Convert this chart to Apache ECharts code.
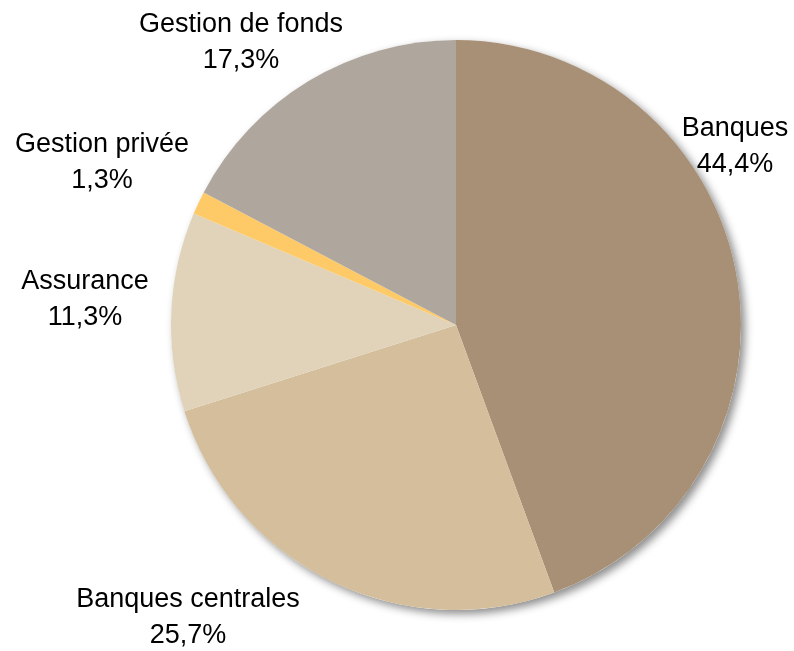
<!DOCTYPE html>
<html>
<head>
<meta charset="utf-8">
<script src="https://cdn.jsdelivr.net/npm/echarts@6/dist/echarts.min.js"></script>
<style>
html,body{margin:0;padding:0;background:#fff;}
#chart{width:794px;height:651px;}
</style>
</head>
<body>
<div id="chart"></div>
<script>
const categories = ['Banques', 'Banques centrales', 'Assurance', 'Gestion privée', 'Gestion de fonds'];
const shares = [44.4, 25.7, 11.3, 1.3, 17.3];
const shareLabels = ['44,4%', '25,7%', '11,3%', '1,3%', '17,3%'];

const colors = ['#A89076', '#D4BE9B', '#E0D3B9', '#FDCA67', '#AFA69D'];
const labelAnchors = [[735, 147], [188, 618], [85, 300], [102, 163], [241, 43]];

const chart = echarts.init(document.getElementById('chart'), null, {renderer: 'canvas'});
const fontFamily = "'Liberation Sans', Arial, sans-serif";

chart.setOption({
  animation: false,
  backgroundColor: '#ffffff',
  series: [
    {
      type: 'pie',
      silent: true,
      center: [456, 325],
      radius: 285,
      z: 1,
      label: {show: false},
      labelLine: {show: false},
      itemStyle: {
        color: '#ffffff',
        shadowBlur: 8,
        shadowColor: 'rgba(0,0,0,0.45)',
        shadowOffsetX: 4,
        shadowOffsetY: 4
      },
      data: [{value: 1, name: ''}]
    },
    {
      type: 'pie',
      center: [456, 325],
      radius: 285,
      startAngle: 90,
      clockwise: true,
      z: 2,
      avoidLabelOverlap: false,
      itemStyle: {borderWidth: 0},
      label: {
        show: true,
        position: 'outside',
        color: '#000000',
        fontFamily: fontFamily,
        fontSize: 27,
        lineHeight: 36,
        align: 'center',
        overflow: 'none',
        width: 300,
        formatter: function (p) { return p.name + '\n' + shareLabels[p.dataIndex]; }
      },
      labelLine: {show: false},
      labelLayout: function (params) {
        const a = labelAnchors[params.dataIndex];
        return {x: a[0], y: a[1], align: 'center', verticalAlign: 'middle', hideOverlap: false, moveOverlap: null};
      },
      emphasis: {disabled: true},
      data: categories.map(function (c, i) {
        return {name: c, value: shares[i], itemStyle: {color: colors[i]}};
      })
    }
  ]
});
</script>
</body>
</html>
